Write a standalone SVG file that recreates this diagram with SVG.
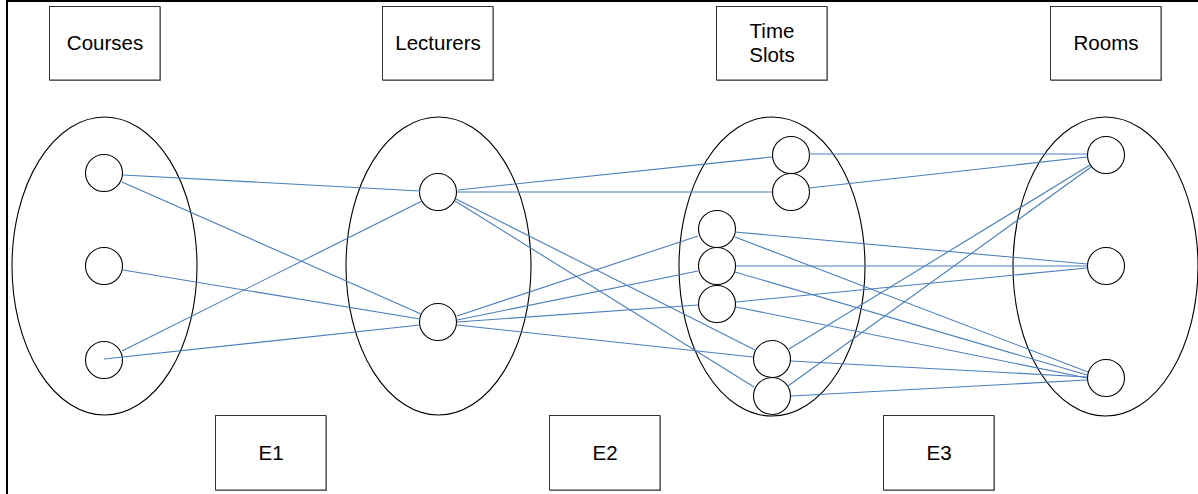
<svg xmlns="http://www.w3.org/2000/svg" width="1198" height="494" viewBox="0 0 1198 494">
<style>
.box{fill:#fff;stroke:#333;stroke-width:1}
.shadow{fill:#888}
.lbl{font-family:"Liberation Sans",Arial,sans-serif;font-size:20.5px;fill:#000;text-anchor:middle}
.set{fill:none;stroke:#000;stroke-width:1.1}
.el{fill:#fff;stroke:#000;stroke-width:1.1}
.c line{stroke:#4a7ebb;stroke-width:1.1}
</style>
<rect x="0" y="0" width="1198" height="494" fill="#fff"/>
<g id="frame"><line x1="7" y1="0" x2="7" y2="494" stroke="#000" stroke-width="2"/><line x1="6" y1="1" x2="1198" y2="1" stroke="#000" stroke-width="2"/></g>

<g id="courses-label"><rect class="shadow" x="50" y="7" width="111" height="74"/><rect class="box" x="49.5" y="6.5" width="110.5" height="73.5"/><text class="lbl" x="105" y="50">Courses</text></g>
<g id="lecturers-label"><rect class="shadow" x="383" y="7" width="111" height="74"/><rect class="box" x="382.5" y="6.5" width="110.5" height="73.5"/><text class="lbl" x="438" y="50">Lecturers</text></g>
<g id="timeslots-label"><rect class="shadow" x="717" y="7" width="111" height="74"/><rect class="box" x="716.5" y="6.5" width="110.5" height="73.5"/><text class="lbl" x="772" y="38">Time</text><text class="lbl" x="772" y="62">Slots</text></g>
<g id="rooms-label"><rect class="shadow" x="1051" y="7" width="111" height="74"/><rect class="box" x="1050.5" y="6.5" width="110.5" height="73.5"/><text class="lbl" x="1106" y="50">Rooms</text></g>

<g id="E1"><rect class="shadow" x="216" y="416" width="111" height="75"/><rect class="box" x="215.5" y="415.5" width="110.5" height="74.5"/><text class="lbl" x="271" y="460">E1</text></g>
<g id="E2"><rect class="shadow" x="550" y="416" width="111" height="75"/><rect class="box" x="549.5" y="415.5" width="110.5" height="74.5"/><text class="lbl" x="605" y="460">E2</text></g>
<g id="E3"><rect class="shadow" x="884" y="416" width="111" height="75"/><rect class="box" x="883.5" y="415.5" width="110.5" height="74.5"/><text class="lbl" x="939" y="460">E3</text></g>

<g id="set-courses"><ellipse class="set" cx="104.5" cy="266" rx="92.5" ry="149"/></g>
<g id="set-lecturers"><ellipse class="set" cx="438.5" cy="266" rx="92.5" ry="149"/></g>
<g id="set-timeslots"><ellipse class="set" cx="772" cy="266.5" rx="93" ry="149.5"/></g>
<g id="set-rooms"><ellipse class="set" cx="1105.5" cy="266.5" rx="92.5" ry="149.5"/></g>

<g id="elements">
<g id="c1"><circle class="el" cx="104" cy="173" r="18.5"/></g>
<g id="c2"><circle class="el" cx="104" cy="266" r="18.5"/></g>
<g id="c3"><circle class="el" cx="104" cy="360" r="18.5"/></g>
<g id="l1"><circle class="el" cx="438" cy="192" r="18.5"/></g>
<g id="l2"><circle class="el" cx="438" cy="322" r="18.5"/></g>
<g id="t1"><circle class="el" cx="791" cy="155" r="18.5"/></g>
<g id="t2"><circle class="el" cx="791" cy="192" r="18.5"/></g>
<g id="s1"><circle class="el" cx="717" cy="229" r="18.5"/></g>
<g id="s2"><circle class="el" cx="717" cy="266" r="18.5"/></g>
<g id="s3"><circle class="el" cx="717" cy="304" r="18.5"/></g>
<g id="b1"><circle class="el" cx="772" cy="359" r="18.5"/></g>
<g id="b2"><circle class="el" cx="772" cy="396" r="18.5"/></g>
<g id="r1"><circle class="el" cx="1106" cy="155" r="18.5"/></g>
<g id="r2"><circle class="el" cx="1106" cy="266" r="18.5"/></g>
<g id="r3"><circle class="el" cx="1106" cy="378" r="18.5"/></g>
</g>

<g id="connectors" class="c">
<line x1="123" y1="175" x2="420" y2="191"/>
<line x1="122" y1="182" x2="421" y2="314"/>
<line x1="123" y1="270" x2="420" y2="319"/>
<line x1="104" y1="359" x2="420" y2="325"/>
<line x1="122" y1="351" x2="422" y2="201"/>

<line x1="458" y1="190" x2="772" y2="157"/>
<line x1="457" y1="192" x2="772" y2="192"/>
<line x1="456" y1="199" x2="755" y2="350"/>
<line x1="455" y1="201" x2="754" y2="387"/>
<line x1="457" y1="316" x2="698" y2="236"/>
<line x1="457" y1="320" x2="698" y2="271"/>
<line x1="457" y1="322" x2="698" y2="305"/>
<line x1="457" y1="325" x2="753" y2="357"/>

<line x1="809" y1="154" x2="1087" y2="154"/>
<line x1="809" y1="188" x2="1087" y2="157"/>
<line x1="735" y1="232" x2="1087" y2="264"/>
<line x1="735" y1="237" x2="1088" y2="372"/>
<line x1="736" y1="266" x2="1087" y2="266"/>
<line x1="735" y1="272" x2="1087" y2="375"/>
<line x1="736" y1="302" x2="1087" y2="268"/>
<line x1="736" y1="307" x2="1087" y2="378"/>
<line x1="791" y1="361" x2="1087" y2="377"/>
<line x1="791" y1="396" x2="1087" y2="380"/>
<line x1="789" y1="349" x2="1090" y2="165"/>
<line x1="788" y1="386" x2="1091" y2="167"/>
</g>
</svg>
